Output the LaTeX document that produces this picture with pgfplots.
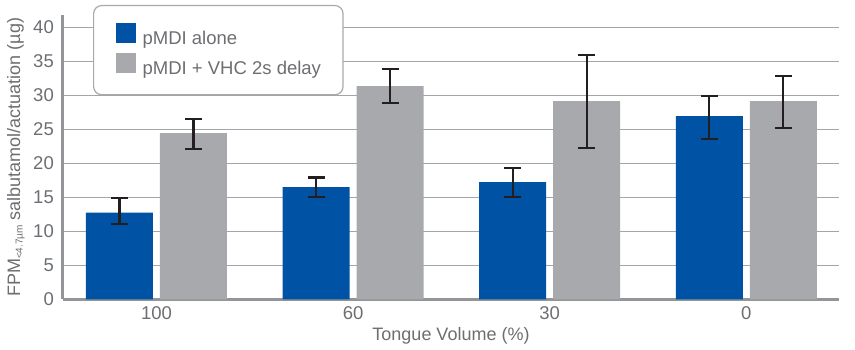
\documentclass[border=0pt]{standalone}
\usepackage{pgfplots}
\pgfplotsset{compat=1.18}
\usepackage{pgfplotstable}
\usepackage{fontspec}
\setmainfont{Liberation Sans}
\definecolor{barblue}{HTML}{0053A4}
\definecolor{bargray}{HTML}{A7A9AC}
\definecolor{textgray}{HTML}{6D6E71}
\definecolor{axisgray}{HTML}{939598}
\definecolor{gridgray}{HTML}{A3A5A8}
\definecolor{errblack}{HTML}{231F20}
\pgfplotstableread{
x y ep em
0 12.74 2.20 1.62
1 16.51 1.43 1.42
2 17.25 2.10 2.21
3 26.96 2.94 3.36
}\alone
\pgfplotstableread{
x y ep em
0 24.46 2.05 2.31
1 31.37 2.50 2.46
2 29.16 6.81 6.91
3 29.16 3.68 3.97
}\vhc
\begin{document}
\fontsize{18}{21}\selectfont
\begin{tikzpicture}
\path[use as bounding box] (-63pt,-50.7pt) rectangle (792pt,299.3pt);
\begin{axis}[
  at={(0pt,0pt)}, anchor=south west,
  scale only axis, width=776pt, height=284pt,
  xmin=-0.4756, xmax=3.4718, ymin=0, ymax=41.8,
  ybar=7pt, bar width=67pt,
  xtick={0,1,2,3}, xticklabels={100,60,30,0},
  ytick={0,5,...,40},
  /pgf/number format/assume math mode=true,
  major tick length=0pt,
  ymajorgrids, grid style={color=gridgray, line width=1.4pt},
  axis x line*=bottom, axis y line*=left,
  axis line style={-, color=axisgray, line width=3pt},
  tick label style={color=textgray, font=\fontsize{18.5}{20}\selectfont},
  yticklabel style={xshift=-3pt},
  xticklabel style={yshift=-1pt},
  xlabel={Tongue Volume (\%)},
  ylabel={FPM\raisebox{-2.5pt}{\fontsize{10}{10}\selectfont <4.7µm} salbutamol/actuation (µg)},
  every axis x label/.style={at={(axis description cs:0.5,0)}, anchor=center, yshift=-37pt, color=textgray},
  every axis y label/.style={at={(axis description cs:0,0.5)}, rotate=90, anchor=center, yshift=47pt, color=textgray},
  legend image code/.code={\fill[#1, sharp corners] (0pt,-3.5pt) rectangle (20pt,16.5pt);},
  legend cell align=left,
  legend style={at={(rel axis cs:0.0387,1.0363)}, anchor=north west,
    draw=bargray, line width=1.2pt, rounded corners=8pt, fill=white,
    inner xsep=22pt, inner ysep=17pt, row sep=6pt, column sep=7pt,
    font=\fontsize{18.5}{20}\selectfont\color{textgray}, nodes={inner sep=0pt}},
  error bars/error bar style={line width=2.3pt, color=errblack},
  error bars/error mark options={line width=2.3pt, mark size=8.5pt, color=errblack, rotate=90},
]
\addplot[fill=barblue, draw=none,
  error bars/.cd, y dir=both, y explicit]
  table[x=x, y=y, y error plus=ep, y error minus=em] {\alone};
\addlegendentry{pMDI alone}
\addplot[fill=bargray, draw=none,
  error bars/.cd, y dir=both, y explicit]
  table[x=x, y=y, y error plus=ep, y error minus=em] {\vhc};
\addlegendentry{pMDI + VHC 2s delay}
\end{axis}
\end{tikzpicture}
\end{document}
